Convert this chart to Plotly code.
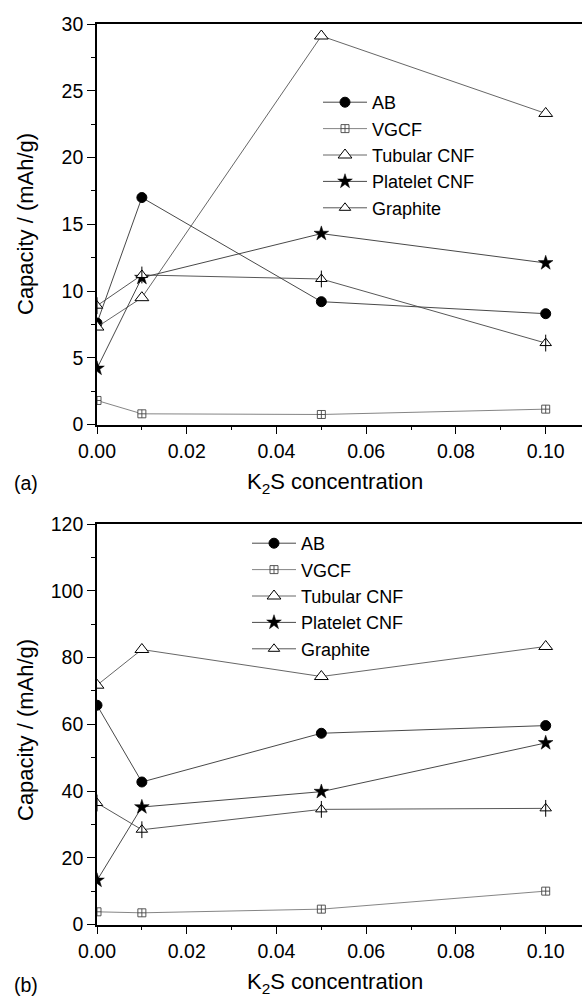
import plotly.graph_objects as go

# ---------------- data ----------------
k2s = [0.0, 0.01, 0.05, 0.10]

series_names = ["AB", "VGCF", "Tubular CNF", "Platelet CNF", "Graphite"]

# panel (a)
a_AB = [7.6, 17.0, 9.2, 8.3]
a_VGCF = [1.8, 0.8, 0.75, 1.15]
a_Tubular = [7.3, 9.5, 29.1, 23.3]
a_Platelet = [4.2, 11.0, 14.3, 12.1]
a_Graphite = [8.9, 11.2, 10.9, 6.1]

# panel (b)
b_AB = [65.7, 42.7, 57.3, 59.6]
b_VGCF = [3.8, 3.5, 4.6, 10.0]
b_Tubular = [71.7, 82.4, 74.3, 83.3]
b_Platelet = [13.2, 35.2, 39.8, 54.4]
b_Graphite = [36.4, 28.4, 34.5, 34.8]

x_tickvals = [0.0, 0.02, 0.04, 0.06, 0.08, 0.10]
x_ticktext = ["0.00", "0.02", "0.04", "0.06", "0.08", "0.10"]
a_ytickvals = [0, 5, 10, 15, 20, 25, 30]
b_ytickvals = [0, 20, 40, 60, 80, 100, 120]

FONT = "Liberation Sans, Arial, sans-serif"
W, H = 582, 996

styles = {
    "AB": dict(symbol="circle", size=10, color="black", line=dict(color="black", width=1)),
    "VGCF": dict(symbol="square-cross", size=8, color="white", line=dict(color="#444", width=0.9)),
    "Tubular CNF": dict(symbol="triangle-up", size=12, color="white", line=dict(color="black", width=1)),
    "Platelet CNF": dict(symbol="star", size=11, color="black", line=dict(color="black", width=0.5)),
    "Graphite": dict(symbol="triangle-up", size=10, color="white", line=dict(color="black", width=1)),
}
line_colors = {"AB": "#333", "VGCF": "#777", "Tubular CNF": "#555",
               "Platelet CNF": "#333", "Graphite": "#444"}

fig = go.Figure()


def add_panel(data, xa, ya, legend):
    for name, vals in zip(series_names, data):
        fig.add_trace(go.Scatter(
            x=k2s, y=vals, name=name, mode="lines+markers",
            line=dict(color=line_colors[name], width=0.9),
            marker=styles[name], xaxis=xa, yaxis=ya, legend=legend,
            legendgroup=legend + name,
        ))
    # vertical bar through the graphite triangle
    fig.add_trace(go.Scatter(
        x=k2s, y=data[4], mode="markers", showlegend=False,
        marker=dict(symbol="line-ns", size=12, line=dict(color="black", width=1)),
        xaxis=xa, yaxis=ya, legendgroup=legend + "Graphite", hoverinfo="skip",
    ))


add_panel([a_AB, a_VGCF, a_Tubular, a_Platelet, a_Graphite], "x", "y", "legend")
add_panel([b_AB, b_VGCF, b_Tubular, b_Platelet, b_Graphite], "x2", "y2", "legend2")


def py(p):
    return (H - p) / H


def px(p):
    return p / W


xdom = [px(97), 1.0]
xrange_ = [0, 485 / 4487]

common_x = dict(
    range=xrange_, domain=xdom, showgrid=False, zeroline=False,
    showline=True, linecolor="black", linewidth=1.6, mirror=True,
    ticks="outside", ticklen=8, tickwidth=1.3, tickcolor="black",
    tickvals=x_tickvals, ticktext=x_ticktext,
    minor=dict(dtick=0.01, ticks="outside", ticklen=4, tickwidth=1.3, tickcolor="black", tick0=0),
    tickfont=dict(family=FONT, size=19.5, color="black"), automargin=False,
)
common_y = dict(
    showgrid=False, zeroline=False, showline=True, linecolor="black", linewidth=1.6,
    ticks="outside", ticklen=8, tickwidth=1.3, tickcolor="black",
    tickfont=dict(family=FONT, size=19.5, color="black"), automargin=False,
)

legend_font = dict(family=FONT, size=18, color="black")

fig.update_layout(
    width=W, height=H, margin=dict(l=0, r=0, t=0, b=0),
    paper_bgcolor="white", plot_bgcolor="white",
    font=dict(family=FONT, color="black"),
    xaxis=dict(**common_x, anchor="y"),
    xaxis2=dict(**common_x, anchor="y2"),
    yaxis=dict(**common_y, domain=[py(424.5), py(24)], range=[0, 30], tickvals=a_ytickvals,
               minor=dict(dtick=2.5, ticks="outside", ticklen=4, tickwidth=1.3, tickcolor="black"),
               anchor="x"),
    yaxis2=dict(**common_y, domain=[py(924.5), py(524)], range=[0, 120], tickvals=b_ytickvals,
                minor=dict(dtick=10, ticks="outside", ticklen=4, tickwidth=1.3, tickcolor="black"),
                anchor="x2"),
    legend=dict(x=px(318), y=py(84), xanchor="left", yanchor="top",
                bgcolor="rgba(0,0,0,0)", font=legend_font,
                itemwidth=44, tracegroupgap=0),
    legend2=dict(x=px(247), y=py(525), xanchor="left", yanchor="top",
                 bgcolor="rgba(0,0,0,0)", font=legend_font,
                 itemwidth=44, tracegroupgap=0),
    showlegend=True,
)

ann_font = dict(family=FONT, size=22, color="black")
for ytitle_c, xtitle_c, lab, lab_y in [(224, 483, "(a)", 483), (730, 983, "(b)", 985)]:
    fig.add_annotation(text="Capacity / (mAh/g)", textangle=-90, x=px(25), y=py(ytitle_c),
                       xref="paper", yref="paper", showarrow=False, font=ann_font,
                       xanchor="center", yanchor="middle")
    fig.add_annotation(text="K<sub>2</sub>S concentration", x=px(335), y=py(xtitle_c),
                       xref="paper", yref="paper", showarrow=False, font=ann_font,
                       xanchor="center", yanchor="middle")
    fig.add_annotation(text=lab, x=px(26), y=py(lab_y), xref="paper", yref="paper",
                       showarrow=False, font=dict(family=FONT, size=19.5, color="black"),
                       xanchor="center", yanchor="middle")

fig.write_html("out.html")
